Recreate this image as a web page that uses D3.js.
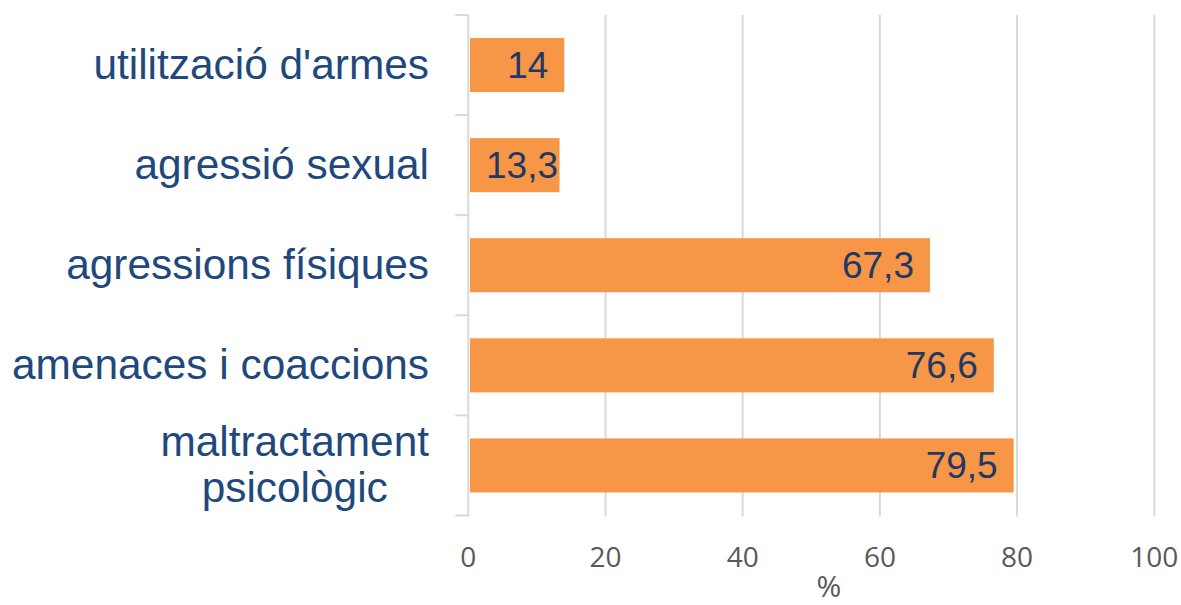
<!DOCTYPE html>
<html>
<head>
<meta charset="utf-8">
<script src="https://cdn.jsdelivr.net/npm/d3@7"></script>
<style>
  html, body { margin: 0; padding: 0; background: #ffffff; }
  svg { display: block; }
</style>
</head>
<body>
<svg id="chart" width="1181" height="605"></svg>
<script>
// ---- data ----
const categories = ["utilització d'armes", "agressió sexual", "agressions físiques", "amenaces i coaccions", "maltractament psicològic"];
const categoryLines = [["utilització d'armes"], ["agressió sexual"], ["agressions físiques"], ["amenaces i coaccions"], ["maltractament", "psicològic"]];
const values = [14, 13.3, 67.3, 76.6, 79.5];
const valueLabels = ["14", "13,3", "67,3", "76,6", "79,5"];
const xTicks = [0, 20, 40, 60, 80, 100];
const xTitle = "%";

(function () {
// ---- layout ----
const svg = d3.select("#chart");
const pLeft = 468.3, pRight = 1154.3, pTop = 15, pBottom = 515.5;

const x = d3.scaleLinear().domain([0, 100]).range([pLeft, pRight]);
const y = d3.scaleBand().domain(categories).range([pTop, pBottom]).paddingInner(0.46).paddingOuter(0.23);

const gridColor = "#d9d9d9";

// gridlines
svg.append("g").selectAll("line").data(xTicks.filter(d => d > 0)).join("line")
  .attr("x1", d => x(d)).attr("x2", d => x(d))
  .attr("y1", pTop).attr("y2", pBottom + 1)
  .attr("stroke", gridColor).attr("stroke-width", 2);

// y axis line and ticks at band boundaries
const boundaries = d3.range(categories.length + 1).map(i => pTop + i * (pBottom - pTop) / categories.length);
svg.append("line").attr("x1", pLeft).attr("x2", pLeft).attr("y1", pTop).attr("y2", pBottom + 1)
  .attr("stroke", gridColor).attr("stroke-width", 2);
svg.append("g").selectAll("line").data(boundaries).join("line")
  .attr("x1", pLeft - 13).attr("x2", pLeft)
  .attr("y1", d => d).attr("y2", d => d)
  .attr("stroke", gridColor).attr("stroke-width", 2);

// bars
const barStart = x(0) + 1.7;
svg.append("g").selectAll("rect").data(values).join("rect")
  .attr("x", barStart)
  .attr("y", (d, i) => y(categories[i]))
  .attr("width", d => x(d) - barStart)
  .attr("height", y.bandwidth())
  .attr("fill", "#F79646");

// value labels
const vl = svg.append("g").selectAll("text").data(values).join("text")
  .attr("y", (d, i) => y(categories[i]) + y.bandwidth() / 2)
  .attr("dy", "0.35em")
  .attr("text-anchor", "end")
  .attr("font-family", "'Liberation Sans', Arial, sans-serif")
  .attr("font-size", 37)
  .attr("fill", "#1F3864")
  .text((d, i) => valueLabels[i]);
vl.each(function (d) {
  const w = this.getComputedTextLength();
  const xe = Math.max(x(d) - 16, barStart + 16 + w);
  d3.select(this).attr("x", xe);
});

// category labels
const catG = svg.append("g");
categoryLines.forEach((lines, i) => {
  const cy = y(categories[i]) + y.bandwidth() / 2;
  const t = catG.append("text")
    .attr("font-family", "'Liberation Sans', Arial, sans-serif")
    .attr("font-size", 42.4)
    .attr("fill", "#1F497D");
  if (lines.length === 1) {
    t.attr("text-anchor", "end").attr("x", 429).attr("y", cy).attr("dy", "0.33em").text(lines[0]);
  } else {
    const spans = lines.map(ln => t.append("tspan").text(ln));
    const widths = spans.map(s => s.node().getComputedTextLength());
    const cx = 429 - d3.max(widths) / 2;
    t.attr("text-anchor", "middle");
    spans.forEach((s, j) => s.attr("x", cx).attr("y", cy + (j === 0 ? -9 : 37)));
  }
});

// x tick labels
svg.append("g").selectAll("text").data(xTicks).join("text")
  .attr("x", d => x(d)).attr("y", 567)
  .attr("text-anchor", "middle")
  .attr("font-family", "'Open Sans', sans-serif")
  .attr("font-size", 28)
  .attr("fill", "#595959")
  .text(d => d);

// x title
svg.append("text").attr("x", 829).attr("y", 597)
  .attr("text-anchor", "middle")
  .attr("font-family", "'Open Sans', sans-serif")
  .attr("font-size", 30)
  .attr("fill", "#595959")
  .text(xTitle);
})();
</script>
</body>
</html>
